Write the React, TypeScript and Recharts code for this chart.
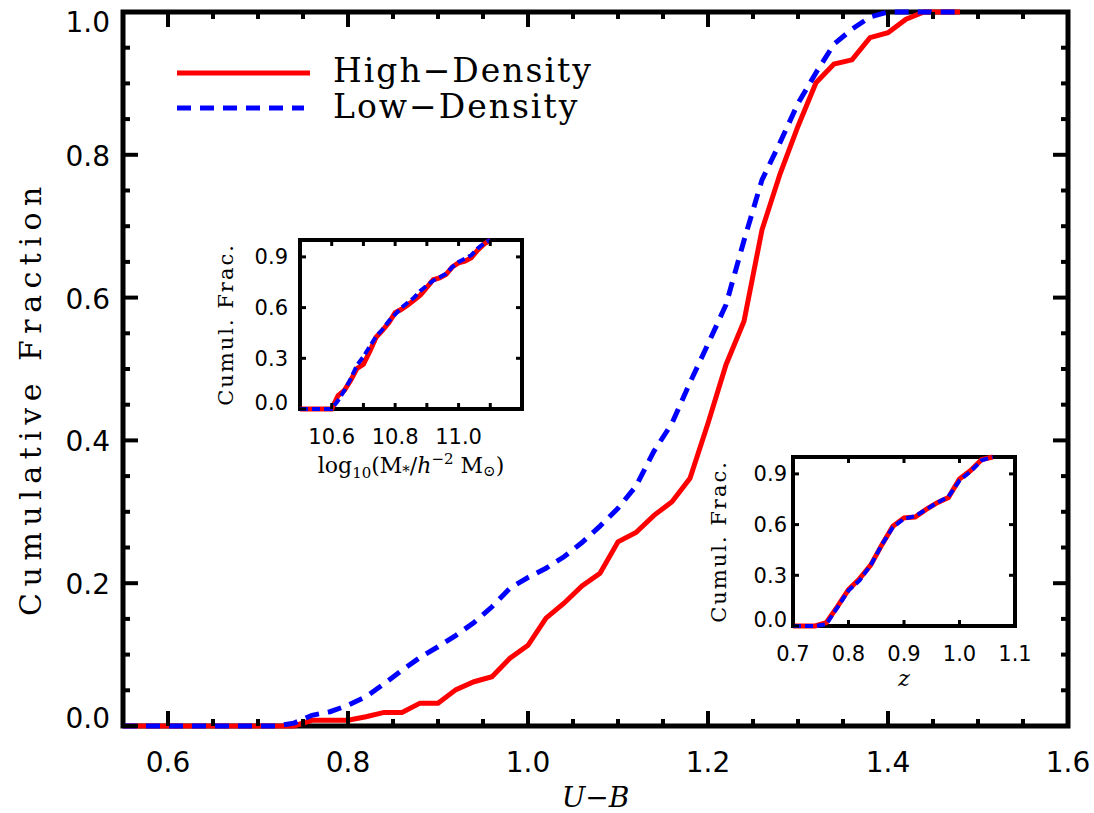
import React from "react";
import { LineChart, Line, XAxis, YAxis, ReferenceArea, Legend } from "recharts";

// main panel: cumulative U-B colour distributions
const ubBins = [
  0.55, 0.56, 0.58, 0.6, 0.62, 0.64, 0.66, 0.68, 0.7, 0.72, 0.74, 0.76, 0.78, 0.8, 0.82, 0.84,
  0.86, 0.88, 0.9, 0.92, 0.94, 0.96, 0.98, 1.0, 1.02, 1.04, 1.06, 1.08, 1.1, 1.12, 1.14, 1.16,
  1.18, 1.2, 1.22, 1.24, 1.26, 1.28, 1.3, 1.32, 1.34, 1.36, 1.38, 1.4, 1.42, 1.44, 1.46, 1.48,
];
const highDensity = [
  0, 0, 0, 0, 0, 0, 0, 0, 0, 0, 0, 0.008, 0.008, 0.008, 0.013, 0.019,
  0.019, 0.032, 0.032, 0.051, 0.062, 0.069, 0.095, 0.113, 0.151, 0.172, 0.196, 0.214, 0.258, 0.271, 0.295, 0.314,
  0.347, 0.424, 0.506, 0.567, 0.695, 0.773, 0.84, 0.901, 0.927, 0.933, 0.964, 0.971, 0.99, 1, 1, 1,
];
const lowDensity = [
  0, 0, 0, 0, 0, 0, 0, 0, 0, 0, 0.004, 0.015, 0.02, 0.029, 0.041, 0.059,
  0.078, 0.096, 0.111, 0.127, 0.145, 0.167, 0.193, 0.208, 0.221, 0.237, 0.257, 0.28, 0.305, 0.336, 0.385, 0.424,
  0.481, 0.535, 0.59, 0.68, 0.765, 0.817, 0.872, 0.915, 0.955, 0.976, 0.993, 1, 1, 1, 1, 1,
];

// stellar mass inset
const massBins = [
  10.5, 10.52, 10.54, 10.56, 10.58, 10.6, 10.62, 10.64, 10.66, 10.68, 10.7, 10.72, 10.74, 10.76, 10.78, 10.8,
  10.82, 10.84, 10.86, 10.88, 10.9, 10.92, 10.94, 10.96, 10.98, 11.0, 11.02, 11.04, 11.06, 11.08, 11.1,
];
const massHigh = [
  0, 0, 0, 0, 0, 0, 0.08, 0.11, 0.17, 0.24, 0.265, 0.34, 0.425, 0.465, 0.51, 0.57,
  0.59, 0.615, 0.645, 0.675, 0.72, 0.765, 0.775, 0.795, 0.84, 0.865, 0.875, 0.895, 0.94, 0.975, 1,
];
const massLow = [
  0, 0, 0, 0, 0, 0, 0.05, 0.11, 0.18, 0.26, 0.31, 0.37, 0.43, 0.47, 0.52, 0.56,
  0.6, 0.63, 0.66, 0.7, 0.73, 0.76, 0.78, 0.8, 0.84, 0.87, 0.89, 0.91, 0.95, 0.98, 1,
];

// redshift inset
const zBins = [0.7, 0.72, 0.74, 0.76, 0.78, 0.8, 0.82, 0.84, 0.86, 0.88, 0.9, 0.92, 0.94, 0.96, 0.98, 1.0, 1.02, 1.04, 1.06];
const zHigh = [0, 0, 0, 0.02, 0.115, 0.215, 0.28, 0.36, 0.48, 0.59, 0.64, 0.645, 0.69, 0.73, 0.76, 0.87, 0.92, 0.985, 1];
const zLow = [0, 0, 0, 0.01, 0.11, 0.21, 0.27, 0.36, 0.48, 0.585, 0.635, 0.65, 0.69, 0.73, 0.765, 0.86, 0.915, 0.98, 1];

// ticks
const mainXTicks = [0.55, 0.6, 0.65, 0.7, 0.75, 0.8, 0.85, 0.9, 0.95, 1.0, 1.05, 1.1, 1.15, 1.2, 1.25, 1.3, 1.35, 1.4, 1.45, 1.5, 1.55, 1.6];
const mainXLabels = [0.6, 0.8, 1.0, 1.2, 1.4, 1.6];
const mainYTicks = [0, 0.05, 0.1, 0.15, 0.2, 0.25, 0.3, 0.35, 0.4, 0.45, 0.5, 0.55, 0.6, 0.65, 0.7, 0.75, 0.8, 0.85, 0.9, 0.95, 1.0];
const mainYLabels = [0, 0.2, 0.4, 0.6, 0.8, 1.0];
const massXTicks = [10.6, 10.7, 10.8, 10.9, 11.0, 11.1];
const massXLabels = [10.6, 10.8, 11.0];
const zXTicks = [0.7, 0.8, 0.9, 1.0, 1.1];
const insetYTicks = [0, 0.3, 0.6, 0.9];

const seriesNames = ["High\u2212Density", "Low\u2212Density"];
const seriesColors = ["#ff0000", "#0000ff"];

const SANS = "DejaVu Sans, sans-serif";
const SERIF = "DejaVu Serif, serif";

const toRows = (xs: number[], hi: number[], lo: number[]) =>
  xs.map((x, i) => ({ x, high: hi[i], low: lo[i] }));

const mainRows = toRows(ubBins, highDensity, lowDensity);
const massRows = toRows(massBins, massHigh, massLow);
const zRows = toRows(zBins, zHigh, zLow);

const near = (v: number, list?: number[]) => !!list && list.some((m) => Math.abs(m - v) < 1e-6);

type TickCfg = {
  side: "bottom" | "top" | "left" | "right";
  long?: number[];
  labels?: number[];
  longLen: number;
  shortLen: number;
  stroke: number;
  fontSize?: number;
  gap?: number;
  nudge?: (v: number) => number;
};

// IDL-style inward ticks, labels drawn outside the frame
const makeTick = (cfg: TickCfg) => (p: any) => {
  const { x, y, payload } = p;
  const v = payload.value as number;
  const len = near(v, cfg.long) ? cfg.longLen : cfg.shortLen;
  const dx = cfg.side === "left" ? len : cfg.side === "right" ? -len : 0;
  const dy = cfg.side === "bottom" ? -len : cfg.side === "top" ? len : 0;
  const show = near(v, cfg.labels);
  const txt = v.toFixed(1);
  return (
    <g>
      <line x1={x} y1={y} x2={x + dx} y2={y + dy} stroke="#000" strokeWidth={cfg.stroke} />
      {show && cfg.side === "bottom" && (
        <text x={x} y={y + (cfg.gap ?? 0)} textAnchor="middle" fontFamily={SANS} fontSize={cfg.fontSize} fill="#000">
          {txt}
        </text>
      )}
      {show && cfg.side === "left" && (
        <text x={x - (cfg.gap ?? 0)} y={y + (cfg.nudge ? cfg.nudge(v) : 0)} textAnchor="end" fontFamily={SANS} fontSize={cfg.fontSize} fill="#000">
          {txt}
        </text>
      )}
    </g>
  );
};

const renderLegend = () => (
  <svg width={620} height={140} style={{ display: "block" }}>
    {seriesNames.map((name, i) => (
      <g key={name}>
        <line
          x1={177}
          x2={i === 0 ? 310 : 304}
          y1={73 + 35 * i}
          y2={73 + 35 * i}
          stroke={seriesColors[i]}
          strokeWidth={5}
          strokeDasharray={i === 0 ? undefined : "14 9"}
        />
        <text x={333} y={82 + 35.5 * i} fontFamily={SERIF} fontSize={33} letterSpacing={2} fill="#000">
          {name}
        </text>
      </g>
    ))}
  </svg>
);

type InsetProps = {
  left: number;
  top: number;
  rows: { x: number; high: number; low: number }[];
  xDomain: [number, number];
  xTicks: number[];
  xLabels: number[];
  yGap: number;
  xGap: number;
  title: (vb: any) => React.ReactNode;
};

const IW = 222;
const IH = 169;
// axes are 1px thick, so each margin is one less than the padding round the plot
const IM = { top: 9, left: 109, right: 34, bottom: 74 };

function Inset({ left, top, rows, xDomain, xTicks, xLabels, yGap, xGap, title }: InsetProps) {
  return (
    <div style={{ position: "absolute", left: left - IM.left - 1, top: top - IM.top - 1 }}>
      <LineChart width={IW + IM.left + IM.right + 2} height={IH + IM.top + IM.bottom + 2} data={rows} margin={IM}>
        <ReferenceArea x1={xDomain[0]} x2={xDomain[1]} y1={0} y2={1} fill="none" stroke="#000" strokeWidth={4} />
        <XAxis
          dataKey="x"
          type="number"
          domain={xDomain}
          ticks={xTicks}
          interval={0}
          height={1}
          tickSize={0}
          tickMargin={0}
          tickLine={false}
          axisLine={false}
          tick={makeTick({ side: "bottom", longLen: 6, shortLen: 6, stroke: 3, labels: xLabels, fontSize: 21, gap: xGap })}
          label={(p: any) => title(p.viewBox)}
        />
        <XAxis
          xAxisId="top"
          orientation="top"
          dataKey="x"
          type="number"
          domain={xDomain}
          allowDataOverflow
          ticks={xTicks}
          interval={0}
          height={1}
          tickSize={0}
          tickMargin={0}
          tickLine={false}
          axisLine={false}
          tick={makeTick({ side: "top", longLen: 6, shortLen: 6, stroke: 3 })}
        />
        <YAxis
          type="number"
          domain={[0, 1]}
          ticks={insetYTicks}
          interval={0}
          width={1}
          tickSize={0}
          tickMargin={0}
          tickLine={false}
          axisLine={false}
          tick={makeTick({
            side: "left",
            longLen: 6,
            shortLen: 6,
            stroke: 3,
            labels: insetYTicks,
            fontSize: 21,
            gap: yGap,
            nudge: (v) => (v === 0 ? 1 : 7.5),
          })}
          label={(p: any) => (
            <text
              x={p.viewBox.x - 73}
              y={p.viewBox.y + p.viewBox.height / 2}
              transform={`rotate(-90, ${p.viewBox.x - 73}, ${p.viewBox.y + p.viewBox.height / 2})`}
              textAnchor="middle"
              dominantBaseline="central"
              fontFamily={SERIF}
              fontSize={21}
              letterSpacing={2}
              fill="#000"
            >
              Cumul. Frac.
            </text>
          )}
        />
        <YAxis
          yAxisId="right"
          orientation="right"
          type="number"
          domain={[0, 1]}
          allowDataOverflow
          ticks={insetYTicks}
          interval={0}
          width={1}
          tickSize={0}
          tickMargin={0}
          tickLine={false}
          axisLine={false}
          tick={makeTick({ side: "right", longLen: 6, shortLen: 6, stroke: 3 })}
        />
        <Line type="linear" dataKey="high" stroke={seriesColors[0]} strokeWidth={5} dot={false} isAnimationActive={false} />
        <Line
          type="linear"
          dataKey="low"
          stroke={seriesColors[1]}
          strokeWidth={4}
          strokeDasharray="8 4"
          dot={false}
          isAnimationActive={false}
        />
      </LineChart>
    </div>
  );
}

export default function App() {
  return (
    <div style={{ position: "absolute", left: 0, top: 0, width: 1094, height: 813, background: "#fff" }}>
      <LineChart width={1094} height={813} data={mainRows} margin={{ top: 11, right: 25, bottom: 86, left: 122 }}>
        <ReferenceArea x1={0.55} x2={1.6} y1={0} y2={1} fill="none" stroke="#000" strokeWidth={5} />
        <XAxis
          dataKey="x"
          type="number"
          domain={[0.55, 1.6]}
          ticks={mainXTicks}
          interval={0}
          height={1}
          tickSize={0}
          tickMargin={0}
          tickLine={false}
          axisLine={false}
          tick={makeTick({
            side: "bottom",
            long: mainXLabels,
            labels: mainXLabels,
            longLen: 15,
            shortLen: 7,
            stroke: 4,
            fontSize: 28,
            gap: 46,
          })}
          label={(p: any) => (
            <text
              x={p.viewBox.x + p.viewBox.width / 2}
              y={p.viewBox.y + 81}
              textAnchor="middle"
              fontFamily={SERIF}
              fontStyle="italic"
              fontSize={28}
              fill="#000"
            >
              U{"\u2212"}B
            </text>
          )}
        />
        <XAxis
          xAxisId="top"
          orientation="top"
          dataKey="x"
          type="number"
          domain={[0.55, 1.6]}
          allowDataOverflow
          ticks={mainXTicks}
          interval={0}
          height={1}
          tickSize={0}
          tickMargin={0}
          tickLine={false}
          axisLine={false}
          tick={makeTick({ side: "top", long: mainXLabels, longLen: 15, shortLen: 7, stroke: 4 })}
        />
        <YAxis
          type="number"
          domain={[0, 1]}
          ticks={mainYTicks}
          interval={0}
          width={1}
          tickSize={0}
          tickMargin={0}
          tickLine={false}
          axisLine={false}
          tick={makeTick({
            side: "left",
            long: mainYLabels,
            labels: mainYLabels,
            longLen: 15,
            shortLen: 7,
            stroke: 4,
            fontSize: 28,
            gap: 13,
            nudge: (v) => (v === 0 ? 2 : v === 1 ? 20 : 11),
          })}
          label={(p: any) => (
            <text
              x={p.viewBox.x - 92}
              y={p.viewBox.y + p.viewBox.height / 2 + 29}
              transform={`rotate(-90, ${p.viewBox.x - 92}, ${p.viewBox.y + p.viewBox.height / 2 + 29})`}
              textAnchor="middle"
              dominantBaseline="central"
              fontFamily={SERIF}
              fontSize={30}
              letterSpacing={6.5}
              fill="#000"
            >
              Cumulative Fraction
            </text>
          )}
        />
        <YAxis
          yAxisId="right"
          orientation="right"
          type="number"
          domain={[0, 1]}
          allowDataOverflow
          ticks={mainYTicks}
          interval={0}
          width={1}
          tickSize={0}
          tickMargin={0}
          tickLine={false}
          axisLine={false}
          tick={makeTick({ side: "right", long: mainYLabels, longLen: 15, shortLen: 7, stroke: 4 })}
        />
        <Line type="linear" dataKey="high" name={seriesNames[0]} stroke={seriesColors[0]} strokeWidth={5} dot={false} isAnimationActive={false} />
        <Line
          type="linear"
          dataKey="low"
          name={seriesNames[1]}
          stroke={seriesColors[1]}
          strokeWidth={5}
          strokeDasharray="14 9"
          dot={false}
          isAnimationActive={false}
        />
        <Legend
          layout="vertical"
          align="center"
          verticalAlign="middle"
          content={renderLegend}
          wrapperStyle={{ left: 0, top: 0, width: 620, height: 140 }}
        />
      </LineChart>

      <Inset
        left={300}
        top={240}
        rows={massRows}
        xDomain={[10.5, 11.2]}
        xTicks={massXTicks}
        xLabels={massXLabels}
        yGap={12}
        xGap={35}
        title={(vb) => (
          <text x={vb.x + vb.width / 2} y={vb.y + 64} textAnchor="middle" fontFamily={SERIF} fontSize={22} fill="#000">
            log
            <tspan fontSize={15} dy={5}>10</tspan>
            <tspan dy={-5}>(M</tspan>
            <tspan fontSize={15} dy={3}>*</tspan>
            <tspan dy={-3}>/</tspan>
            <tspan fontStyle="italic">h</tspan>
            <tspan fontSize={15} dy={-9}>{"\u2212"}2</tspan>
            <tspan dy={9}> M</tspan>
            <tspan fontSize={15} dy={3}>{"\u2299"}</tspan>
            <tspan dy={-3}>)</tspan>
          </text>
        )}
      />
      <Inset
        left={793}
        top={457}
        rows={zRows}
        xDomain={[0.7, 1.1]}
        xTicks={zXTicks}
        xLabels={zXTicks}
        yGap={6}
        xGap={34.5}
        title={(vb) => (
          <text x={vb.x + vb.width / 2} y={vb.y + 60} textAnchor="middle" fontFamily={SERIF} fontStyle="italic" fontSize={22} fill="#000">
            z
          </text>
        )}
      />
    </div>
  );
}
